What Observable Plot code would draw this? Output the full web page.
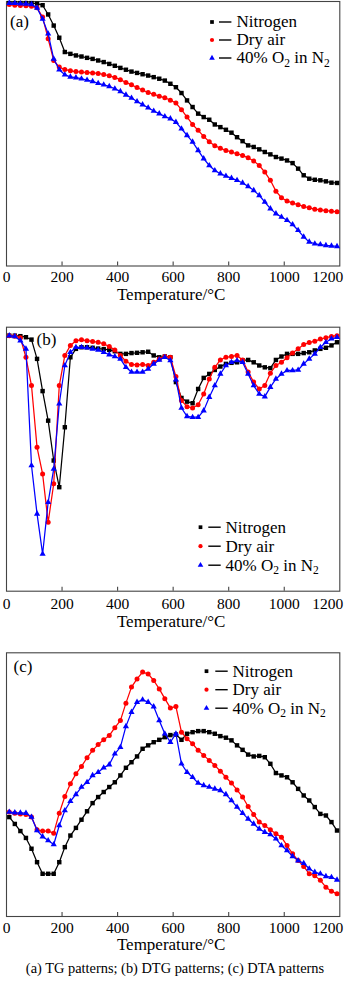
<!DOCTYPE html>
<html>
<head>
<meta charset="utf-8">
<script src="https://cdn.jsdelivr.net/npm/d3@7"></script>
<script src="https://cdn.jsdelivr.net/npm/@observablehq/plot@0.6"></script>
<style>
  html, body { margin: 0; padding: 0; background: #fff; }
  #root { position: relative; width: 350px; height: 983px; overflow: hidden;
          font-family: "Liberation Serif", "Times New Roman", Tinos, "Nimbus Roman", "DejaVu Serif", serif; color: #000; }
  .panel { position: absolute; left: 0; }
  .caption { position: absolute; left: 0; width: 350px; text-align: center;
             font-size: 14.4px; line-height: 14.4px; white-space: nowrap; }
</style>
</head>
<body>
<div id="root"></div>
<script>
// ---------------- data ----------------
const temps = [10,30,50,70,90,110,130,150,170,190,210,230,250,270,290,310,330,350,370,390,
  410,430,450,470,490,510,530,550,570,590,610,630,650,670,690,710,730,750,770,790,
  810,830,850,870,890,910,930,950,970,990,1010,1030,1050,1070,1090,1110,1130,1150,1170,1190];

const seriesNames = ["Nitrogen", "Dry air", "40% O_2 in N_2"];
const seriesColors = ["#000000", "#ff0000", "#0000ff"];
const seriesSymbols = ["square", "circle", "triangle"];

// (a) TG (relative units, no y scale shown)
const tgNitrogen = [99.4,99.4,99.4,99.4,99.4,99.2,98.6,95.1,90.9,86.3,
  80.9,80.2,79.6,79.2,78.7,78.3,77.7,77.1,76.4,75.7,
  74.9,74.2,73.5,73.0,72.5,72.0,71.4,70.8,70.1,68.9,
  67.6,65.4,62.6,60.1,57.6,56.3,55.3,53.5,52.5,51.5,
  50.4,48.7,47.2,45.6,45.0,44.1,43.1,42.2,41.2,40.6,
  39.9,38.9,36.8,34.3,33.0,32.6,32.4,32.0,31.5,31.4];
const tgDryAir = [98.9,98.6,98.5,98.4,98.2,97.6,94.1,85.9,77.7,75.2,
  74.3,73.8,73.5,73.3,73.2,73.0,72.8,72.4,71.9,71.3,
  70.4,69.4,68.5,67.5,66.5,65.6,64.9,64.2,63.6,62.7,
  61.6,59.1,56.3,53.5,51.3,49.0,47.0,45.5,44.5,43.7,
  43.1,42.4,41.8,40.9,39.7,38.0,35.5,32.4,28.3,25.8,
  24.6,23.8,23.2,22.5,22.0,21.5,21.2,20.9,20.7,20.5];
const tgO2 = [99.4,99.4,99.2,99.1,98.9,97.6,93.4,87.8,78.3,74.2,
  72.3,71.5,71.2,70.8,70.3,69.8,69.1,68.5,67.9,67.0,
  66.0,64.7,63.5,62.2,61.0,59.8,58.6,57.6,56.5,55.7,
  54.4,51.9,49.4,46.9,43.7,40.6,38.0,36.1,34.9,34.0,
  33.2,32.4,31.4,30.1,28.6,26.7,24.2,21.7,19.8,18.5,
  17.3,15.7,13.5,11.0,9.1,8.4,8.1,7.8,7.6,7.4];

// (b) DTG
const dtgNitrogen = [96.8,96.8,96.6,96.2,95.3,88.0,75.8,64.6,49.5,39.4,
  62.1,88.6,91.8,92.4,92.4,92.2,91.9,91.7,91.4,90.9,
  89.9,89.9,90.2,90.3,90.5,90.7,89.3,88.6,88.9,88.6,
  79.2,73.2,71.8,71.2,76.6,80.8,82.3,83.8,85.1,86.1,
  86.5,86.7,87.4,87.6,86.7,85.5,84.8,84.5,87.6,88.9,
  89.9,89.9,89.9,90.2,90.5,91.2,91.8,92.2,93.1,94.3];
const dtgDryAir = [96.8,96.6,96.0,88.6,77.9,54.5,44.4,26.1,40.7,77.9,
  89.3,93.1,94.9,95.2,94.9,94.6,94.3,93.7,92.7,91.4,
  89.3,87.1,85.9,85.7,85.9,85.5,86.7,88.0,88.9,88.6,
  81.3,72.2,69.9,69.4,70.6,74.7,80.4,84.8,87.6,88.6,
  88.9,89.3,87.6,83.0,79.2,76.6,77.9,82.6,85.5,86.7,
  88.4,90.2,91.8,93.4,94.2,94.7,95.5,96.0,96.5,96.8];
const dtgO2 = [96.8,96.5,94.9,91.8,47.6,29.3,14.1,33.7,46.3,71.0,
  85.5,90.5,92.4,92.4,92.2,91.8,91.4,90.5,89.6,88.9,
  88.0,84.8,83.0,83.0,83.0,84.2,86.1,87.6,88.6,87.4,
  80.1,69.4,66.2,65.9,65.9,68.4,73.5,77.9,82.3,85.5,
  86.7,87.4,86.7,82.3,77.9,74.7,73.7,77.3,80.4,82.3,
  83.6,83.6,83.8,86.1,88.0,89.9,92.4,94.3,95.6,96.2];

// (c) DTA
const dtaNitrogen = [37.7,35.1,32.4,29.8,25.7,20.6,16.2,16.2,16.2,20.6,
  26.3,30.7,33.6,36.7,39.9,43.0,45.3,47.2,49.1,50.9,
  53.5,56.4,58.5,60.7,63.6,64.9,66.1,67.0,68.0,68.8,
  69.0,67.0,69.3,69.9,70.3,70.3,69.9,69.3,68.4,67.8,
  66.8,64.9,63.2,61.4,60.7,60.9,60.4,57.9,54.4,53.5,
  52.8,50.9,48.4,45.9,44.0,41.5,38.9,38.3,35.8,32.6];
const dtaDryAir = [39.6,39.2,38.9,38.7,37.7,32.9,32.4,32.4,31.6,39.2,
  45.5,50.3,54.1,56.9,60.2,63.0,65.2,67.0,68.6,71.6,
  74.3,80.9,87.0,90.1,92.7,92.0,89.5,86.3,82.6,79.1,
  79.6,69.9,67.4,65.5,63.0,61.1,59.2,57.3,55.1,52.8,
  50.6,48.0,45.3,41.7,38.7,35.8,34.5,32.9,31.4,30.1,
  26.9,23.8,21.2,19.0,16.2,15.5,13.7,11.1,9.6,8.6];
const dtaO2 = [39.6,39.4,39.3,39.2,37.7,32.6,30.3,28.8,27.3,34.5,
  40.2,43.7,46.3,49.1,50.9,53.5,54.7,56.4,57.6,61.7,
  64.2,72.1,77.5,81.3,82.2,81.3,79.6,74.3,69.3,66.1,
  69.3,57.9,54.7,52.8,50.6,49.7,49.1,48.4,47.8,46.3,
  44.0,41.5,39.2,37.0,35.1,33.2,32.0,31.1,29.5,26.9,
  25.0,22.8,21.2,20.2,18.1,16.8,16.2,15.2,14.9,13.9];

const xTicks = [0, 200, 400, 600, 800, 1000, 1200];
const panelLabels = ["(a)", "(b)", "(c)"];
const xTitle = "Temperature/°C";
const captionText = "(a) TG patterns; (b) DTG patterns; (c) DTA patterns";

// ---------------- layout ----------------
const FONT = "'Liberation Serif', 'Times New Roman', Tinos, 'Nimbus Roman', 'DejaVu Serif', serif";
const W = 350, mL = 6, mR = 10.7;
const layouts = [
  {top: 0,   height: 310, mt: 1,    mb: 44.5, tickPad: 4.5, titleDy: 28.5,
   label: {x: 19, y: 20.5}, legend: {marker: 211.5, dash: 224.7, text: 236, y0: 20.5, step: 18}},
  {top: 310, height: 330, mt: 16.7, mb: 49.3, tickPad: 6.5, titleDy: 30.4,
   label: {x: 46, y: 12}, legend: {marker: 200, dash: 214, text: 225, y0: 200, step: 19}},
  {top: 640, height: 320, mt: 12.3, mb: 44,   tickPad: 5.5, titleDy: 28.4,
   label: {x: 22.5, y: 14}, legend: {marker: 206, dash: 221, text: 232, y0: 18.4, step: 18.5}}
];
const panelSeries = [
  [tgNitrogen, tgDryAir, tgO2],
  [dtgNitrogen, dtgDryAir, dtgO2],
  [dtaNitrogen, dtaDryAir, dtaO2]
];
const dashSymbol = { draw(ctx) { ctx.moveTo(-6.2, 0); ctx.lineTo(6.2, 0); } };
const symbolR = {square: 2.5, circle: 2.5, triangle: 2.3};

function subscriptify(svg) {
  d3.select(svg).selectAll("text").each(function () {
    const t = this.textContent;
    if (!t.includes("_")) return;
    const parts = t.split(/_(\d)/);
    const sel = d3.select(this);
    sel.text(null);
    let shifted = false;
    parts.forEach((p, i) => {
      if (!p) return;
      const ts = sel.append("tspan").text(p);
      if (i % 2 === 1) { ts.attr("font-size", "11.5").attr("dy", "3.5"); shifted = true; }
      else if (shifted) { ts.attr("dy", "-3.5"); shifted = false; }
    });
  });
}

const root = document.getElementById("root");
layouts.forEach((L, pi) => {
  const innerH = L.height - L.mt - L.mb;
  const marks = [];
  marks.push(Plot.frame({stroke: "#444", strokeWidth: 1.1}));
  marks.push(Plot.tickX(xTicks.slice(1, -1), {x: d => d, stroke: "#444", strokeWidth: 1.1, insetTop: innerH - 4}));
  marks.push(Plot.axisX({ticks: xTicks.slice(0, -1), tickSize: 0, tickPadding: L.tickPad,
    tickFormat: d => String(d), fontSize: 15.5, fontFamily: FONT, label: null, fill: "#000"}));
  marks.push(Plot.axisX({ticks: xTicks.slice(-1), tickSize: 0, tickPadding: L.tickPad,
    tickFormat: d => String(d), fontSize: 15.5, fontFamily: FONT, label: null, dx: -12, fill: "#000"}));
  marks.push(Plot.text([xTitle], {frameAnchor: "bottom", dx: -2, dy: L.titleDy, text: d => d,
    lineAnchor: "middle", fontSize: 17, fontFamily: FONT, fill: "#000"}));
  marks.push(Plot.text([panelLabels[pi]], {frameAnchor: "top-left", dx: L.label.x - mL, dy: L.label.y,
    text: d => d, textAnchor: "middle", lineAnchor: "middle", fontSize: 17, fontFamily: FONT, fill: "#000"}));

  panelSeries[pi].forEach((vals, si) => {
    const rows = temps.map((t, i) => ({t, v: vals[i]}));
    marks.push(Plot.line(rows, {x: "t", y: "v", stroke: seriesColors[si], strokeWidth: 1.25}));
    marks.push(Plot.dot(rows, {x: "t", y: "v", symbol: seriesSymbols[si], fill: seriesColors[si],
      stroke: "none", r: symbolR[seriesSymbols[si]]}));
  });

  // legend
  seriesNames.forEach((name, si) => {
    const dy = L.legend.y0 + si * L.legend.step;
    marks.push(Plot.dot([name], {frameAnchor: "top-left", dx: L.legend.marker - mL, dy,
      symbol: seriesSymbols[si], fill: seriesColors[si], stroke: "none", r: 2.1}));
    marks.push(Plot.dot([name], {frameAnchor: "top-left", dx: L.legend.dash - mL, dy,
      symbol: dashSymbol, fill: "none", stroke: "#000", strokeWidth: 1.4}));
    marks.push(Plot.text([name], {frameAnchor: "top-left", dx: L.legend.text - mL, dy,
      text: d => d, textAnchor: "start", lineAnchor: "middle", fontSize: 17, fontFamily: FONT, fill: "#000"}));
  });

  const svg = Plot.plot({
    width: W, height: L.height,
    marginLeft: mL, marginRight: mR, marginTop: L.mt, marginBottom: L.mb,
    x: {domain: [0, 1200]},
    y: {domain: [0, 100], axis: null},
    style: {fontFamily: FONT, fontSize: "15.5px", color: "#000", background: "transparent", overflow: "visible"},
    marks
  });
  subscriptify(svg);
  const div = document.createElement("div");
  div.className = "panel";
  div.style.top = L.top + "px";
  div.appendChild(svg);
  root.appendChild(div);
});

const cap = document.createElement("div");
cap.className = "caption";
cap.style.top = "961px";
cap.style.fontFamily = FONT;
cap.textContent = captionText;
root.appendChild(cap);
</script>
</body>
</html>
